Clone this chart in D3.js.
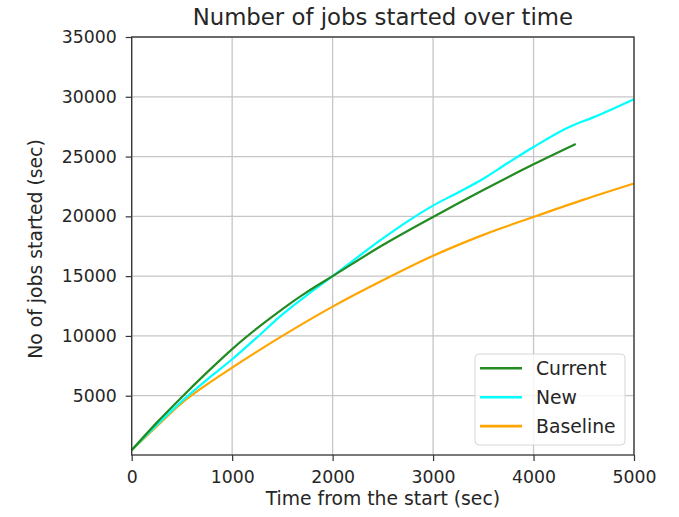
<!DOCTYPE html>
<html>
<head>
<meta charset="utf-8">
<script src="https://cdn.jsdelivr.net/npm/d3@7"></script>
<style>
  html, body { margin: 0; padding: 0; background: #fff; }
  svg { display: block; font-family: "DejaVu Sans", sans-serif; }
</style>
</head>
<body>
<svg id="chart" width="679" height="517"></svg>
<script>
// Elapsed time (sec) and cumulative jobs started for each scheduler
const currentTime = [0, 250, 500, 750, 1000, 1250, 1500, 1750, 2000, 2500, 3000, 3500, 4000, 4420];
const currentJobs = [450, 2750, 4900, 6950, 8900, 10650, 12250, 13700, 15000, 17600, 19950, 22200, 24350, 26050];

const newTime = [0, 250, 500, 750, 1000, 1250, 1500, 1750, 2000, 2250, 2500, 2750, 3000, 3250, 3500, 3750, 4000, 4350, 4600, 5000];
const newJobs = [450, 2550, 4550, 6350, 8050, 9900, 11800, 13450, 15000, 16600, 18150, 19600, 20900, 22000, 23150, 24500, 25800, 27450, 28300, 29800];

const baselineTime = [0, 250, 500, 750, 1000, 1500, 2000, 2500, 3000, 3500, 4000, 4500, 5000];
const baselineJobs = [450, 2450, 4400, 5950, 7350, 10000, 12450, 14650, 16700, 18450, 19950, 21400, 22750];

const xTicks = [0, 1000, 2000, 3000, 4000, 5000];
const yTicks = [5000, 10000, 15000, 20000, 25000, 30000, 35000];

const seriesNames = ["Current", "New", "Baseline"];
const seriesColors = ["#228b22", "#00ffff", "#ffa500"];

const svg = d3.select("#chart");
const plotL = 131.7, plotR = 634, plotT = 37, plotB = 455;

const x = d3.scaleLinear().domain([0, 5000]).range([plotL, plotR]);
const y = d3.scaleLinear().domain([42, 35000]).range([plotB, plotT]);

// grid
const grid = svg.append("g");
grid.selectAll(".gx").data(xTicks).join("line")
  .attr("x1", d => x(d)).attr("x2", d => x(d))
  .attr("y1", plotT).attr("y2", plotB)
  .attr("stroke", "#c6c6c6").attr("stroke-width", 1.3);
grid.selectAll(".gy").data(yTicks).join("line")
  .attr("x1", plotL).attr("x2", plotR)
  .attr("y1", d => y(d)).attr("y2", d => y(d))
  .attr("stroke", "#c6c6c6").attr("stroke-width", 1.3);

// series
const series = [
  { name: seriesNames[0], color: seriesColors[0], pts: d3.zip(currentTime, currentJobs) },
  { name: seriesNames[1], color: seriesColors[1], pts: d3.zip(newTime, newJobs) },
  { name: seriesNames[2], color: seriesColors[2], pts: d3.zip(baselineTime, baselineJobs) }
];
const line = d3.line().x(d => x(d[0])).y(d => y(d[1])).curve(d3.curveMonotoneX);
svg.append("g")
  .selectAll("path").data(series.slice().reverse()).join("path")
  .attr("d", d => line(d.pts))
  .attr("fill", "none")
  .attr("stroke", d => d.color)
  .attr("stroke-width", 2.2)
  .attr("stroke-linejoin", "round");

// axes
const xAxis = svg.append("g").attr("transform", `translate(0,${plotB})`)
  .call(d3.axisBottom(x).tickValues(xTicks).tickSize(6).tickPadding(10).tickFormat(d3.format("d")));
const yAxis = svg.append("g").attr("transform", `translate(${plotL},0)`)
  .call(d3.axisLeft(y).tickValues(yTicks).tickSize(6).tickPadding(9).tickFormat(d3.format("d")));
[xAxis, yAxis].forEach(a => {
  a.select(".domain").remove();
  a.selectAll("line").attr("stroke", "#333").attr("stroke-width", 1.2);
  a.selectAll("text").attr("fill", "#262626").attr("font-size", "17.3px")
    .attr("font-family", "DejaVu Sans, sans-serif");
});

// frame
svg.append("rect")
  .attr("x", plotL).attr("y", plotT)
  .attr("width", plotR - plotL).attr("height", plotB - plotT)
  .attr("fill", "none").attr("stroke", "#333").attr("stroke-width", 1.3);

// title and axis labels
svg.append("text")
  .attr("x", (plotL + plotR) / 2).attr("y", 25)
  .attr("text-anchor", "middle").attr("font-size", "22.8px").attr("fill", "#262626")
  .text("Number of jobs started over time");
svg.append("text")
  .attr("x", (plotL + plotR) / 2).attr("y", 505)
  .attr("text-anchor", "middle").attr("font-size", "18.8px").attr("fill", "#262626")
  .text("Time from the start (sec)");
svg.append("text")
  .attr("transform", `translate(42,${(plotT + plotB) / 2 + 3}) rotate(-90)`)
  .attr("text-anchor", "middle").attr("font-size", "18.8px").attr("fill", "#262626")
  .text("No of jobs started (sec)");

// legend
const lg = svg.append("g");
lg.append("rect")
  .attr("x", 475).attr("y", 354).attr("width", 150).attr("height", 91)
  .attr("rx", 4).attr("fill", "#fff").attr("fill-opacity", 0.8)
  .attr("stroke", "#d6d6d6").attr("stroke-width", 1);
const rows = lg.selectAll(".row").data(series).join("g")
  .attr("transform", (d, i) => `translate(0,${368.3 + i * 28.9})`);
rows.append("line")
  .attr("x1", 480).attr("x2", 522).attr("y1", 0).attr("y2", 0)
  .attr("stroke", d => d.color).attr("stroke-width", 2.6);
rows.append("text")
  .attr("x", 536).attr("y", 0).attr("dy", "0.36em")
  .attr("font-size", "18.8px").attr("fill", "#262626")
  .text(d => d.name);
</script>
</body>
</html>
